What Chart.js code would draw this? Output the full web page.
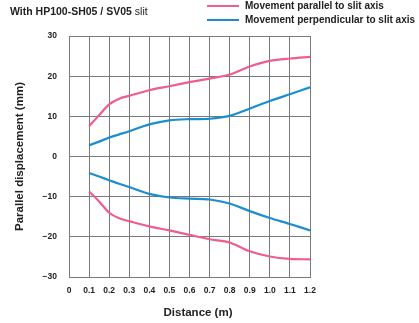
<!DOCTYPE html>
<html>
<head>
<meta charset="utf-8">
<script src="https://cdn.jsdelivr.net/npm/chart.js@4/dist/chart.umd.min.js"></script>
<style>
  html, body { margin: 0; padding: 0; background: #fff; }
  #wrap { position: relative; width: 419px; height: 323px; overflow: hidden; font-family: "Liberation Sans", Arial, sans-serif; }
  #c { position: absolute; left: 0; top: 0; }
  .hdr { position: absolute; font-size: 10.5px; color: #222; white-space: nowrap; line-height: 1; }
  .hdr b { font-weight: bold; }
  .leg { position: absolute; font-size: 10px; color: #222; white-space: nowrap; line-height: 1; font-weight: bold; }
  .sw { position: absolute; height: 2px; width: 32px; }
  .xt { position: absolute; font-size: 11.5px; font-weight: bold; color: #222; white-space: nowrap; line-height: 1; transform: translateX(-50%); }
</style>
</head>
<body>
<div id="wrap">
  <canvas id="c" width="419" height="323"></canvas>
  <div class="hdr" style="left:10px; top:6px;"><b>With HP100-SH05 / SV05</b> slit</div>
  <div class="sw" style="left:207px; top:5px; background:#ee5c93;"></div>
  <div class="leg" style="left:245px; top:1px;">Movement parallel to slit axis</div>
  <div class="sw" style="left:207px; top:19px; background:#1b8ed0;"></div>
  <div class="leg" style="left:245px; top:15px;">Movement perpendicular to slit axis</div>
  <div class="xt" style="left:198px; top:307px;">Distance (m)</div>
</div>
<script>
// Distance from the slit (m)
const distance = [0.1, 0.15, 0.2, 0.25, 0.3, 0.4, 0.5, 0.6, 0.7, 0.8, 0.9, 1.0, 1.1, 1.2];
// Displacement envelopes (mm), upper and lower bound for each movement
const parallelUpper = [7.5, 10.3, 13.0, 14.4, 15.1, 16.5, 17.5, 18.5, 19.4, 20.4, 22.4, 23.8, 24.4, 24.8];
const parallelLower = [-8.7, -11.2, -14.0, -15.4, -16.1, -17.4, -18.4, -19.5, -20.6, -21.4, -23.6, -24.9, -25.5, -25.6];
const perpUpper = [2.8, 3.7, 4.7, 5.5, 6.3, 8.0, 9.0, 9.3, 9.4, 10.1, 11.9, 13.8, 15.5, 17.2];
const perpLower = [-4.1, -5.0, -5.9, -6.8, -7.6, -9.3, -10.2, -10.5, -10.7, -11.7, -13.6, -15.3, -16.8, -18.4];
// Axis tick labels
const xTickLabels = ["0", "0.1", "0.2", "0.3", "0.4", "0.5", "0.6", "0.7", "0.8", "0.9", "1.0", "1.1", "1.2"];
const yTickLabels = ["\u221230", "\u221220", "\u221210", "0", "10", "20", "30"];

const PINK = "#ee5c93";
const BLUE = "#1b8ed0";

function pts(ys) { return distance.map((d, i) => ({ x: d, y: ys[i] })); }
function line(label, ys, color) {
  return {
    label, data: pts(ys), borderColor: color, backgroundColor: color,
    borderWidth: 2.2, pointRadius: 0, fill: false, tension: 0.3
  };
}

new Chart(document.getElementById("c"), {
  type: "line",
  data: {
    datasets: [
      line("Movement parallel to slit axis", parallelUpper, PINK),
      line("Movement parallel to slit axis (lower)", parallelLower, PINK),
      line("Movement perpendicular to slit axis", perpUpper, BLUE),
      line("Movement perpendicular to slit axis (lower)", perpLower, BLUE)
    ]
  },
  options: {
    responsive: false,
    animation: false,
    devicePixelRatio: 1,
    layout: { padding: { left: 0, top: 36, right: 109, bottom: 0 } },
    plugins: { legend: { display: false }, tooltip: { enabled: false } },
    scales: {
      x: {
        type: "linear", min: 0, max: 1.2,
        afterFit: s => { s.height = 46; },
        afterBuildTicks: s => { s.ticks = xTickLabels.map((t, i) => ({ value: i / 10 })); },
        ticks: {
          callback: (v, i) => xTickLabels[i],
          font: { family: "Liberation Sans", size: 8.5, weight: "bold" },
          color: "#222", padding: 9, maxRotation: 0
        },
        grid: { color: "#7a7a7a", lineWidth: 1, drawTicks: false },
        border: { color: "#7a7a7a" }
      },
      y: {
        min: -30, max: 30,
        afterFit: s => { s.width = 69; },
        afterBuildTicks: s => { s.ticks = yTickLabels.map((t, i) => ({ value: -30 + i * 10 })); },
        ticks: {
          callback: (v, i) => yTickLabels[i],
          font: { family: "Liberation Sans", size: 8.5, weight: "bold" },
          color: "#222", padding: 12
        },
        grid: { color: "#7a7a7a", lineWidth: 1, drawTicks: false },
        border: { color: "#7a7a7a" },
        title: {
          display: true, text: "Parallel displacement (mm)",
          font: { family: "Liberation Sans", size: 11.5, weight: "bold" },
          color: "#222", padding: { top: 13, bottom: 0 }
        }
      }
    }
  }
});
</script>
</body>
</html>
